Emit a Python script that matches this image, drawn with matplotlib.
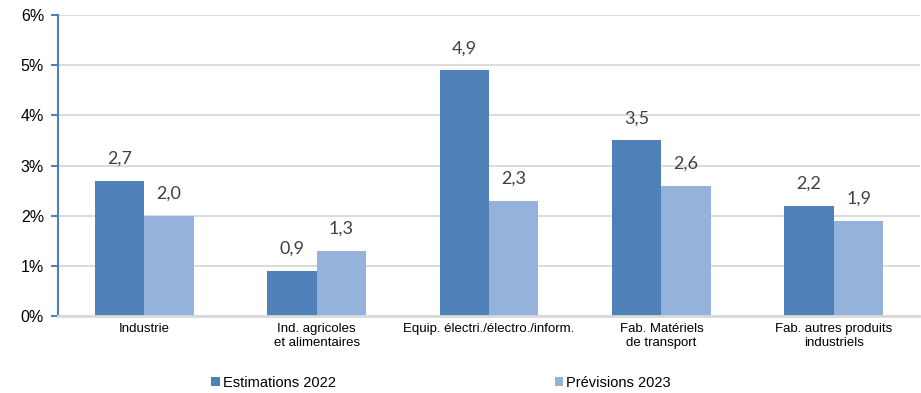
import matplotlib.pyplot as plt
import numpy as np

categories = ["Industrie", "Ind. agricoles\net alimentaires", "Equip. électri./électro./inform.",
              "Fab. Matériels\nde transport", "Fab. autres produits\nindustriels"]
estim_2022 = [2.7, 0.9, 4.9, 3.5, 2.2]
prev_2023 = [2.0, 1.3, 2.3, 2.6, 1.9]
series_names = ["Estimations 2022", "Prévisions 2023"]

dark_blue = "#4F81B8"
light_blue = "#95B3DA"

fig = plt.figure(figsize=(9.21, 3.93), dpi=100)
ax = fig.add_axes([58 / 921, 77 / 393, 862 / 921, 301 / 393])

x = np.arange(len(categories))
w = 0.287
b1 = ax.bar(x - w / 2, estim_2022, w, color=dark_blue, label=series_names[0])
b2 = ax.bar(x + w / 2, prev_2023, w, color=light_blue, label=series_names[1])

for bars, vals in ((b1, estim_2022), (b2, prev_2023)):
    for rect, v in zip(bars, vals):
        ax.annotate(f"{v:.1f}".replace(".", ","),
                    (rect.get_x() + rect.get_width() / 2, v),
                    xytext=(0, 10), textcoords="offset points",
                    ha="center", va="bottom", fontsize=13,
                    family="Lato", color="#404040")

ax.set_xlim(-0.5, len(categories) - 0.5)
ax.set_ylim(0, 6)
ax.set_yticks(range(7))
ax.set_yticklabels([f"{i}%" for i in range(7)], family="Liberation Sans", fontsize=11.5)
ax.set_xticks(x)
ax.set_xticklabels(categories, family="Liberation Sans", fontsize=9.5)
ax.tick_params(axis="x", length=0, pad=5)
ax.tick_params(axis="y", length=5, width=1.5, color=dark_blue, pad=5)

ax.grid(axis="y", color="#D9D9D9", linewidth=1.3)
ax.set_axisbelow(True)
for side in ("top", "right"):
    ax.spines[side].set_visible(False)
ax.spines["left"].set_color(dark_blue)
ax.spines["left"].set_linewidth(1.5)
ax.spines["bottom"].set_color("#D9D9D9")
ax.spines["bottom"].set_linewidth(2)

fig.legend(handles=[b1, b2], loc="center", bbox_to_anchor=(441 / 921, 10 / 393),
           ncol=2, frameon=False, handlelength=0.6, handleheight=0.6,
           handletextpad=0.2, columnspacing=15,
           prop={"family": "Liberation Sans", "size": 10.5})

fig.savefig("out.png", dpi=100)
